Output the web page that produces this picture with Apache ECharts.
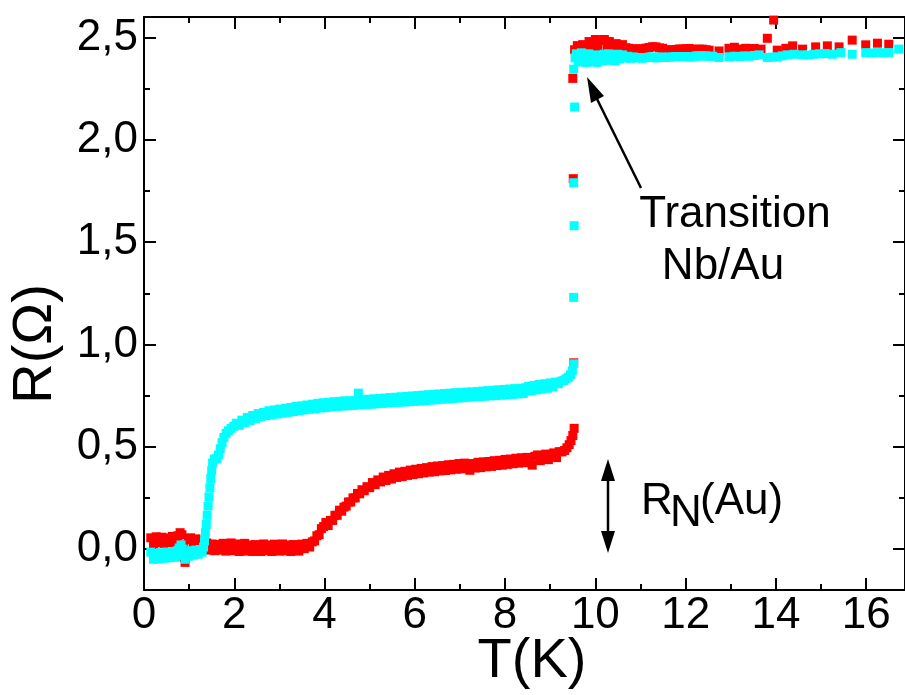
<!DOCTYPE html>
<html><head><meta charset="utf-8">
<script src="https://cdn.jsdelivr.net/npm/echarts@6/dist/echarts.min.js"></script>
<style>html,body{margin:0;padding:0;background:#fff}#c{width:905px;height:695px}</style>
</head><body><div id="c"></div>
<script>
// ---- data ----
const redT = [0.15,0.21,0.27,0.33,0.39,0.45,0.51,0.57,0.63,0.69,0.75,0.80,0.84,0.87,0.89,0.91,0.94,0.98,1.03,1.09,1.15,1.21,1.27,1.33,1.39,1.45,1.51,1.57,1.63,1.69,1.75,1.81,1.87,1.93,1.99,2.05,2.11,2.17,2.23,2.29,2.35,2.41,2.47,2.53,2.59,2.65,2.71,2.77,2.83,2.89,2.95,3.01,3.07,3.13,3.19,3.25,3.31,3.37,3.43,3.49,3.55,3.61,3.67,3.73,3.78,3.83,3.88,3.93,3.98,4.03,4.08,4.13,4.18,4.23,4.28,4.33,4.38,4.43,4.48,4.53,4.58,4.63,4.68,4.73,4.78,4.83,4.88,4.94,5.00,5.06,5.12,5.18,5.24,5.30,5.36,5.42,5.48,5.54,5.60,5.66,5.72,5.78,5.84,5.90,5.96,6.02,6.08,6.14,6.20,6.26,6.32,6.38,6.44,6.50,6.56,6.62,6.68,6.74,6.80,6.86,6.92,6.98,7.04,7.10,7.16,7.22,7.28,7.34,7.40,7.46,7.52,7.58,7.64,7.70,7.76,7.82,7.88,7.94,8.00,8.06,8.12,8.18,8.24,8.30,8.36,8.42,8.48,8.54,8.60,8.66,8.72,8.78,8.84,8.90,8.96,9.02,9.08,9.14,9.20,9.26,9.32,9.37,9.42,9.46,9.50,9.53,9.52,9.51,9.50,
9.54,9.60,9.65,9.72,9.79,9.86,9.94,10.00,10.05,10.12,10.20,10.26,10.31,10.38,10.46,10.53,10.60,10.68,10.75,10.83,10.90,10.97,11.05,11.12,11.19,11.27,11.34,11.42,11.49,11.56,11.64,11.71,11.78,11.86,11.93,12.01,12.08,12.16,12.23,12.30,12.37,12.45,12.52,12.74,12.96,13.08,13.19,13.33,13.52,13.67,13.81,13.95,14.03,14.22,14.37,14.59,14.88,15.14,15.40,15.69,15.99,16.25,16.50];
const redR = [0.055,0.025,0.06,0.03,0.058,0.028,0.055,0.03,0.062,0.035,0.065,0.08,0.07,0.02,-0.04,-0.065,-0.01,0.045,
0.055,0.02,0.05,0.015,0.04,0.005,0.03,-0.005,0.025,-0.008,0.022,-0.005,0.028,-0.01,0.02,0.03,-0.008,0.025,-0.012,0.022,0.028,-0.01,0.02,-0.012,0.022,0.012,-0.012,0.025,-0.008,0.02,-0.012,0.024,0.0,-0.01,0.025,-0.008,0.02,-0.012,0.022,0.0,-0.01,0.024,0.002,0.028,0.01,0.035,
0.04,0.065,0.07,0.1,0.11,0.13,0.115,0.14,0.14,0.165,0.165,0.19,0.185,0.205,0.21,0.23,0.23,0.25,0.25,0.272,0.27,0.29,0.285,0.305,0.3,
0.325,0.315,0.338,0.328,0.352,0.335,0.36,0.342,0.368,0.35,0.376,0.354,0.38,0.36,0.386,0.364,0.39,0.368,0.394,0.372,0.398,0.376,0.403,0.378,0.406,0.382,0.408,0.384,0.412,0.387,0.414,0.39,0.418,0.392,0.42,0.395,
0.385,0.418,0.396,0.424,0.398,0.426,0.402,0.428,0.404,0.432,0.408,0.434,0.41,0.438,0.414,0.44,0.417,0.444,0.42,0.446,0.422,0.448,0.424,0.41,0.453,0.46,0.432,0.456,0.464,0.437,0.463,0.47,0.447,0.476,0.475,0.482,
0.495,0.51,0.53,0.555,0.59,0.91,1.81,2.30,
2.44,2.46,2.435,2.465,2.45,2.48,2.46,2.49,2.455,2.485,2.49,2.46,2.48,2.455,2.47,2.45,2.465,2.45,2.447,2.444,2.443,2.445,2.443,2.448,2.451,2.455,2.454,2.449,2.447,2.44,2.438,2.44,2.441,2.444,2.443,2.445,2.446,2.443,2.441,2.443,2.443,2.44,2.438,2.434,2.447,2.452,2.443,2.447,2.446,2.443,2.496,2.585,2.438,2.447,2.459,2.443,2.454,2.459,2.454,2.487,2.464,2.472,2.467];
const cyanT = [0.15,0.21,0.27,0.33,0.39,0.45,0.51,0.57,0.63,0.69,0.74,0.78,0.82,0.85,0.88,0.91,0.95,1.00,1.05,1.10,1.15,1.20,1.25,1.29,1.32,1.34,1.36,1.38,1.40,1.42,1.44,1.46,1.48,1.50,1.52,1.56,1.61,1.65,1.69,1.73,1.77,1.82,1.87,1.93,1.99,2.05,2.11,2.17,2.23,2.29,2.35,2.41,2.47,2.53,2.59,2.65,2.71,2.77,2.83,2.89,2.95,3.01,3.07,3.13,3.19,3.25,3.31,3.37,3.43,3.49,3.55,3.61,3.67,3.73,3.79,3.85,3.91,3.97,4.03,4.09,4.15,4.21,4.27,4.33,4.39,4.45,4.51,4.57,4.63,4.69,4.75,4.80,4.86,4.92,4.98,5.04,5.10,5.16,5.22,5.28,5.34,5.40,5.46,5.52,5.58,5.64,5.70,5.76,5.82,5.88,5.94,6.00,6.06,6.12,6.18,6.24,6.30,6.36,6.42,6.48,6.54,6.60,6.66,6.72,6.78,6.84,6.90,6.96,7.02,7.08,7.14,7.20,7.26,7.32,7.38,7.44,7.50,7.56,7.62,7.68,7.74,7.80,7.86,7.92,7.98,8.04,8.10,8.16,8.22,8.28,8.34,8.40,8.46,8.52,8.58,8.64,8.70,8.76,8.82,8.88,8.94,9.00,9.06,9.12,9.18,9.24,9.30,9.35,9.40,9.45,9.49,9.52,9.52,9.53,9.52,9.54,9.52,
9.55,9.58,9.62,9.65,9.69,9.73,9.77,9.81,9.85,9.90,9.94,9.99,10.04,10.09,10.14,10.19,10.24,10.29,10.34,10.39,10.44,10.49,10.54,10.60,10.66,10.72,10.78,10.84,10.90,10.97,11.04,11.12,11.20,11.27,11.34,11.42,11.49,11.56,11.64,11.71,11.78,11.86,11.93,12.01,12.08,12.16,12.23,12.30,12.38,12.45,12.52,12.60,12.74,12.96,13.08,13.19,13.30,13.41,13.52,13.63,13.81,13.92,14.03,14.14,14.25,14.40,14.59,14.72,14.84,14.97,15.10,15.25,15.44,15.69,15.99,16.12,16.25,16.38,16.50,16.72];
const cyanR = [-0.015,-0.05,-0.02,-0.048,-0.018,-0.045,-0.015,-0.042,-0.012,-0.04,-0.008,0.005,0.02,0.0,-0.03,-0.05,-0.015,-0.035,-0.008,-0.03,-0.005,-0.025,-0.002,-0.015,
0.01,0.04,0.08,0.12,0.165,0.21,0.255,0.3,0.345,0.385,0.42,0.44,0.442,0.46,0.49,0.52,0.545,0.565,0.578,0.59,0.6,
0.615,0.605,0.63,0.618,0.643,0.628,0.653,0.638,0.662,0.646,0.668,0.652,0.676,0.656,0.68,0.66,0.684,0.664,0.688,0.668,0.692,0.672,0.697,0.676,0.7,0.68,0.704,0.683,0.708,0.686,0.712,0.689,0.715,0.692,0.717,0.695,0.72,0.697,0.722,0.699,0.724,0.7,0.725,0.702,0.726,
0.762,
0.705,0.73,0.706,0.732,0.708,0.734,0.71,0.736,0.712,0.738,0.714,0.74,0.716,0.742,0.717,0.744,0.719,0.746,0.72,0.748,0.722,0.75,0.724,0.752,0.726,0.754,0.728,0.756,0.73,0.758,0.732,0.76,0.734,0.762,0.736,0.764,0.738,0.765,0.74,0.767,0.742,0.768,0.744,0.77,0.745,0.772,0.747,0.774,0.749,0.776,0.75,0.778,0.752,0.78,0.754,0.782,0.756,0.784,0.758,0.786,0.76,0.788,
0.795,0.772,0.8,0.778,0.804,0.782,0.808,0.786,0.812,0.792,0.816,0.808,0.82,0.824,0.832,0.84,0.852,0.87,0.905,1.23,1.58,1.79,2.16,2.345,
2.40,2.42,2.38,2.41,2.425,2.385,2.415,2.378,2.42,2.39,2.382,2.415,2.378,2.405,2.385,2.418,2.388,2.42,2.39,2.412,2.385,2.418,2.395,2.415,2.4,2.408,2.398,2.405,2.4,2.402,2.398,2.402,2.404,2.405,2.4,2.402,2.405,2.402,2.404,2.405,2.407,2.407,2.406,2.407,2.404,2.405,2.41,2.41,2.41,2.41,2.408,2.408,2.402,2.405,2.408,2.407,2.41,2.408,2.412,2.415,2.402,2.404,2.405,2.41,2.415,2.418,2.415,2.414,2.418,2.42,2.421,2.418,2.426,2.418,2.426,2.424,2.426,2.425,2.426,2.443];
const xTickValues = [0, 2, 4, 6, 8, 10, 12, 14, 16];
const yTickValues = [0, 0.5, 1.0, 1.5, 2.0, 2.5];
const xAxisTitle = 'T(K)';
const yAxisTitle = 'R(\u03A9)';

// ---- chart ----
const FONT = "'Liberation Sans', Arial, sans-serif";
const zip = (a, b) => a.map((v, i) => [v, b[i]]);

function axisBase(extra) {
  return Object.assign({
    type: 'value',
    axisLine: { show: true, onZero: false, lineStyle: { color: '#000', width: 2 } },
    axisTick: { show: true, inside: true, length: 12, lineStyle: { color: '#000', width: 2 } },
    minorTick: { show: true, splitNumber: 2, length: 6, lineStyle: { color: '#000', width: 2 } },
    splitLine: { show: false },
    minorSplitLine: { show: false }
  }, extra);
}

const chart = echarts.init(document.getElementById('c'), null, { renderer: 'canvas' });
chart.setOption({
  animation: false,
  backgroundColor: '#fff',
  grid: { left: 144, top: 17, right: -1, bottom: 105, containLabel: false },
  xAxis: [
    axisBase({ position: 'bottom', min: 0, max: 16.86, interval: 2,
      axisLabel: { show: true, customValues: xTickValues, formatter: v => String(v), fontSize: 44, color: '#000', fontFamily: FONT, margin: 4 } }),
    axisBase({ position: 'top', min: 0, max: 16.86, interval: 2, axisLabel: { show: false } })
  ],
  yAxis: [
    axisBase({ position: 'left', min: -0.2, max: 2.6, splitNumber: 5,
      axisLabel: { show: true, customValues: yTickValues, formatter: v => v.toFixed(1).replace('.', ','), fontSize: 44, color: '#000', fontFamily: FONT, margin: 6 } }),
    axisBase({ position: 'right', min: -0.2, max: 2.6, splitNumber: 5, axisLabel: { show: false } })
  ],
  series: [
    { type: 'scatter', xAxisIndex: 0, yAxisIndex: 0, symbol: 'rect', symbolSize: 9,
      itemStyle: { color: '#ff0000', opacity: 1 }, data: zip(redT, redR), silent: true },
    { type: 'scatter', xAxisIndex: 0, yAxisIndex: 0, symbol: 'rect', symbolSize: 9,
      itemStyle: { color: '#00ffff', opacity: 1 }, data: zip(cyanT, cyanR), silent: true }
  ],
  graphic: [
    { type: 'text', x: 36, y: 344, rotation: Math.PI / 2,
      style: { text: yAxisTitle, font: '56px ' + FONT, fill: '#000', align: 'center', verticalAlign: 'middle' } },
    { type: 'text', x: 532, y: 662,
      style: { text: xAxisTitle, font: '56px ' + FONT, fill: '#000', align: 'center', verticalAlign: 'middle' } },
    { type: 'text', x: 735, y: 215,
      style: { text: 'Transition', font: '44px ' + FONT, fill: '#000', align: 'center', verticalAlign: 'middle' } },
    { type: 'text', x: 723, y: 267,
      style: { text: 'Nb/Au', font: '44px ' + FONT, fill: '#000', align: 'center', verticalAlign: 'middle' } },
    { type: 'line', shape: { x1: 641, y1: 188, x2: 597, y2: 99 }, style: { stroke: '#000', lineWidth: 2.5 } },
    { type: 'polygon', shape: { points: [[587, 77], [604, 96], [591, 103]] }, style: { fill: '#000' } },
    { type: 'line', shape: { x1: 608, y1: 478, x2: 608, y2: 534 }, style: { stroke: '#000', lineWidth: 2.5 } },
    { type: 'polygon', shape: { points: [[608, 459], [615, 481], [601, 481]] }, style: { fill: '#000' } },
    { type: 'polygon', shape: { points: [[608, 553], [615, 531], [601, 531]] }, style: { fill: '#000' } },
    { type: 'text', x: 641, y: 502,
      style: { text: 'R', font: '44px ' + FONT, fill: '#000', align: 'left', verticalAlign: 'middle' } },
    { type: 'text', x: 670, y: 514,
      style: { text: 'N', font: '44px ' + FONT, fill: '#000', align: 'left', verticalAlign: 'middle' } },
    { type: 'text', x: 700, y: 502,
      style: { text: '(Au)', font: '44px ' + FONT, fill: '#000', align: 'left', verticalAlign: 'middle' } }
  ]
});
</script></body></html>
